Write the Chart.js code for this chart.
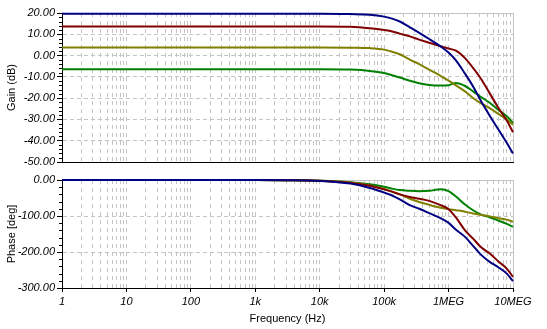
<!DOCTYPE html>
<html>
<head>
<meta charset="utf-8">
<script src="https://cdn.jsdelivr.net/npm/chart.js@4/dist/chart.umd.min.js"></script>
<style>
  html, body { margin: 0; padding: 0; background: #fff; }
  #wrap { position: relative; width: 547px; height: 329px; }
  canvas { position: absolute; left: 0; top: 0; }
</style>
</head>
<body>
<div id="wrap">
  <canvas id="gainChart" width="547" height="329"></canvas>
  <canvas id="phaseChart" width="547" height="329"></canvas>
</div>
<script>
// frequency points (Hz)
const freq = [1, 10, 100, 1000, 3000, 10000, 30000, 60000, 100000, 125000, 175000, 250000, 350000,
  500000, 750000, 1e6, 1.3e6, 1.8e6, 2.4e6, 3.2e6, 4.4e6, 6e6, 8e6, 1e7];

// gain (dB)
const gainBlue  = [19.7, 19.7, 19.7, 19.7, 19.7, 19.7, 19.5, 19.2, 18.3, 17.6, 16.0, 13.3, 10.7,
  7.8, 4.3, 1.4, -2.3, -8.5, -14.5, -21.5, -28.5, -35, -41, -46];
const gainRed   = [13.7, 13.7, 13.7, 13.7, 13.7, 13.7, 13.5, 12.8, 12.0, 11.5, 10.3, 9.0, 7.5,
  6.0, 4.4, 3.3, 2.3, -1.2, -5.8, -11, -18, -24.8, -30.5, -36];
const gainOlive = [3.8, 3.8, 3.8, 3.8, 3.8, 3.8, 3.7, 3.5, 2.8, 2.0, 0.6, -1.9, -4.0,
  -6.6, -9.5, -11.8, -14.0, -16.8, -19.9, -22.5, -24.8, -27.5, -30, -32.5];
const gainGreen = [-6.4, -6.4, -6.4, -6.4, -6.4, -6.4, -6.6, -7.2, -8.2, -9.0, -10.3, -11.8, -13.0,
  -13.8, -14.1, -13.9, -12.9, -14.3, -16.8, -19.5, -22.3, -25.6, -28.5, -31.6];

// phase (deg)
const phaseBlue  = [0, 0, 0, 0, -0.5, -2.5, -10, -22, -35, -41, -54, -70, -80,
  -92, -106, -119, -138, -158, -183, -208, -228, -243, -260, -281];
const phaseRed   = [0, 0, 0, 0, -0.5, -2, -8, -16, -26, -31, -40, -47, -52,
  -58, -70, -81, -104, -140, -163, -187, -205, -227, -246, -269];
const phaseOlive = [0, 0, 0, 0, -0.5, -2, -7, -15, -25, -31, -40, -52, -61,
  -69, -77, -81, -84, -88, -93, -97, -101, -106, -110, -116];
const phaseGreen = [0, 0, 0, 0, -0.5, -2, -6, -12, -19, -23, -28, -30, -31,
  -30, -26, -31, -46, -68, -84, -96, -104, -113, -122, -130];

// x axis decades and their labels
const decades = [1, 10, 100, 1000, 10000, 100000, 1000000, 10000000];
const decadeLabels = ['1', '10', '100', '1k', '10k', '100k', '1MEG', '10MEG'];

const colors = ['#000080', '#800000', '#808000', '#008000'];
const gridGray = '#c4c4c4';
const tickFont = { family: 'Liberation Sans, Arial, sans-serif', size: 11, style: 'italic' };
const titleFont = { family: 'Liberation Sans, Arial, sans-serif', size: 11 };

function pts(values) {
    return freq.map((f, i) => ({ x: f, y: values[i] }));
}

function makeDatasets(series) {
    return series.map((values, i) => ({
        data: pts(values),
        borderColor: colors[i],
        borderWidth: 2,
        pointRadius: 0,
        fill: false,
        clip: 2,
        cubicInterpolationMode: 'monotone'
    }));
}

function logTicks(scale) {
    const ticks = [];
    for (let i = 0; i < decades.length - 1; i++) {
        for (let m = 1; m < 10; m++) ticks.push({ value: decades[i] * m });
    }
    ticks.push({ value: decades[decades.length - 1] });
    scale.ticks = ticks;
}

// light gray frame on top and right, short minor ticks on the y axis
const framePlugin = {
    id: 'frame',
    beforeDatasetsDraw(chart) {
        const { ctx, chartArea: a } = chart;
        const y = chart.scales.y;
        const major = chart.options.scales.y.majorStep;
        ctx.save();
        ctx.lineWidth = 1;
        ctx.strokeStyle = '#000';
        ctx.beginPath();
        y.ticks.forEach(t => {
            if (Math.round(t.value) % major === 0) return;
            const py = Math.round(y.getPixelForValue(t.value)) + 0.5;
            ctx.moveTo(a.left - 3, py);
            ctx.lineTo(a.left, py);
        });
        ctx.stroke();
        ctx.strokeStyle = gridGray;
        ctx.beginPath();
        ctx.moveTo(a.left, Math.round(a.top) + 0.5);
        ctx.lineTo(Math.round(a.right) + 0.5, Math.round(a.top) + 0.5);
        ctx.lineTo(Math.round(a.right) + 0.5, a.bottom);
        ctx.stroke();
        ctx.restore();
    }
};

function xAxis(showLabels) {
    return {
        type: 'logarithmic',
        min: 1,
        max: 1e7,
        afterBuildTicks: logTicks,
        afterFit: s => { s.height = showLabels ? 41 : 0; },
        ticks: {
            display: showLabels,
            autoSkip: false,
            maxRotation: 0,
            padding: 3,
            color: '#000',
            font: tickFont,
            callback: v => {
                const k = decades.indexOf(v);
                return k >= 0 ? decadeLabels[k] : '';
            }
        },
        grid: {
            color: gridGray,
            drawTicks: showLabels,
            tickLength: 4,
            tickColor: c => (c.tick && decades.indexOf(c.tick.value) >= 0) ? '#000' : 'rgba(0,0,0,0)'
        },
        border: { display: true, color: '#000', width: 1, dash: [4, 4] },
        title: {
            display: showLabels,
            text: 'Frequency (Hz)',
            color: '#000',
            font: titleFont,
            padding: { top: 0, bottom: 3 }
        }
    };
}

function yAxis(min, max, step, major, title) {
    const isMajor = c => c.tick && Math.round(c.tick.value) % major === 0;
    return {
        min: min,
        max: max,
        majorStep: major,
        afterFit: s => { s.width = 62; },
        ticks: {
            stepSize: step,
            autoSkip: false,
            padding: 2,
            color: '#000',
            font: tickFont,
            callback: v => (Math.round(v) % major === 0 ? Number(v).toFixed(2) : '')
        },
        grid: {
            color: c => isMajor(c) ? gridGray : 'rgba(0,0,0,0)',
            tickColor: c => isMajor(c) ? '#000' : 'rgba(0,0,0,0)',
            tickLength: 5
        },
        border: { display: true, color: '#000', width: 1, dash: [4, 3] },
        title: {
            display: true,
            text: title,
            color: '#000',
            font: titleFont,
            padding: { top: 5, bottom: 0 }
        }
    };
}

function makeChart(id, series, yOpts, showX, padding) {
    return new Chart(document.getElementById(id), {
        type: 'line',
        data: { datasets: makeDatasets(series) },
        options: {
            responsive: false,
            animation: false,
            events: [],
            layout: { padding: padding },
            plugins: { legend: { display: false }, tooltip: { enabled: false } },
            scales: { x: xAxis(showX), y: yOpts }
        },
        plugins: [framePlugin]
    });
}

makeChart('gainChart',
    [gainBlue, gainRed, gainOlive, gainGreen],
    yAxis(-50, 20, 2, 10, 'Gain (dB)'),
    false,
    { top: 13, right: 34, bottom: 167, left: 0 });

makeChart('phaseChart',
    [phaseBlue, phaseRed, phaseOlive, phaseGreen],
    yAxis(-300, 0, 20, 100, 'Phase [deg]'),
    true,
    { top: 180, right: 34, bottom: 0, left: 0 });
</script>
</body>
</html>
